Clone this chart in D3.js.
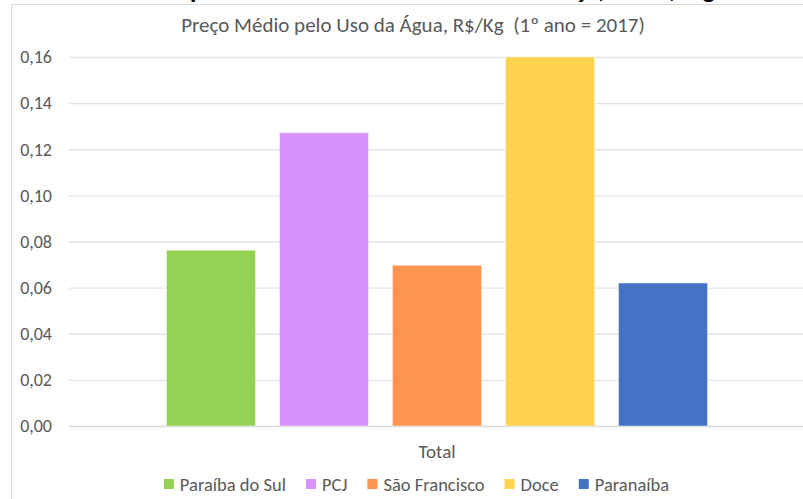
<!DOCTYPE html>
<html lang="pt">
<head>
    <meta charset="UTF-8">
    <title>Preço Médio pelo Uso da Água</title>
    <script src="https://cdnjs.cloudflare.com/ajax/libs/d3/7.8.5/d3.min.js"></script>
    <style>
        body {
            margin: 0;
            padding: 0;
            background-color: #fff;
            overflow: hidden;
        }
        svg text {
            font-family: Calibri, Carlito, "Open Sans", sans-serif;
            fill: #595959;
            white-space: pre;
        }
    </style>
</head>
<body>
    <div id="chart"></div>

    <script>
        // chart data
        const categories = ["Total"];
        const series = ["Paraíba do Sul", "PCJ", "São Francisco", "Doce", "Paranaíba"];
        const values = [0.0762, 0.1272, 0.0697, 0.1600, 0.0620];
        const colors = ["#95d152", "#d991fd", "#ff944e", "#ffd24f", "#4473c5"];
        const yTicks = [0, 0.02, 0.04, 0.06, 0.08, 0.10, 0.12, 0.14, 0.16];
        const chartTitle = "Preço Médio pelo Uso da Água, R$/Kg  (1º ano = 2017)";
        const headingText = "Comparativo entre os Valores de Cobrança, em R$/kg";

        const width = 803;
        const height = 499;
        const margin = { top: 57, right: -2, bottom: 73, left: 69 };

        const ptBR = d3.formatLocale({ decimal: ",", thousands: ".", grouping: [3], currency: ["R$", ""] });
        const fmt = ptBR.format(".2f");

        const svg = d3.select("#chart")
            .append("svg")
            .attr("width", width)
            .attr("height", height);

        // heading of the page above, only its lower edge shows
        svg.append("text")
            .attr("x", 428)
            .attr("y", -2)
            .attr("text-anchor", "middle")
            .style("fill", "#000")
            .style("font-weight", "bold")
            .style("font-size", "26px")
            .text(headingText);

        // chart frame
        svg.append("rect")
            .attr("x", 11.5)
            .attr("y", 4.5)
            .attr("width", width)
            .attr("height", height)
            .style("fill", "#fff")
            .style("stroke", "#d9d9d9");

        const x0 = d3.scaleBand()
            .domain(categories)
            .range([margin.left, width - margin.right])
            .paddingOuter(0.1513);

        const x1 = d3.scaleBand()
            .domain(series)
            .range([0, x0.bandwidth()])
            .paddingInner(0.212)
            .paddingOuter(0.106);

        const y = d3.scaleLinear()
            .domain([0, 0.16])
            .range([height - margin.bottom, margin.top]);

        // gridlines + tick labels
        const yAxis = d3.axisLeft(y)
            .tickValues(yTicks)
            .tickFormat(fmt)
            .tickSize(-(width - margin.left - margin.right))
            .tickPadding(17);

        const gy = svg.append("g")
            .attr("transform", `translate(${margin.left},0)`)
            .call(yAxis);
        gy.select(".domain").remove();
        gy.selectAll(".tick line")
            .style("stroke", d => d === 0 ? "#d9d9d9" : "#e4e4e4")
            .style("stroke-width", 1.4);
        gy.selectAll(".tick text")
            .style("font-size", "18px");

        // bars
        const group = svg.append("g")
            .selectAll("g")
            .data(categories)
            .enter()
            .append("g")
            .attr("transform", d => `translate(${x0(d)},0)`);

        group.selectAll("rect")
            .data(() => series.map((s, i) => ({ name: s, value: values[i], color: colors[i] })))
            .enter()
            .append("rect")
            .attr("x", d => x1(d.name))
            .attr("y", d => y(d.value))
            .attr("width", x1.bandwidth())
            .attr("height", d => y(0) - y(d.value))
            .style("fill", d => d.color)
            .style("stroke", "rgba(255,255,255,0.45)")
            .style("stroke-width", 1);

        // category label
        svg.append("g")
            .selectAll("text")
            .data(categories)
            .enter()
            .append("text")
            .attr("x", d => x0(d) + x0.bandwidth() / 2)
            .attr("y", 458)
            .attr("text-anchor", "middle")
            .style("font-size", "19px")
            .text(d => d);

        // title
        svg.append("text")
            .attr("x", 413)
            .attr("y", 32)
            .attr("text-anchor", "middle")
            .style("font-size", "21px")
            .text(chartTitle);

        // legend, laid out by measured text width
        const legend = svg.append("g");
        const items = legend.selectAll("g")
            .data(series)
            .enter()
            .append("g");
        items.append("rect")
            .attr("width", 10)
            .attr("height", 10)
            .attr("y", 479)
            .style("fill", (d, i) => colors[i]);
        items.append("text")
            .attr("x", 16)
            .attr("y", 491)
            .style("font-size", "18.5px")
            .text(d => d);

        let cursor = 0;
        const gap = 20;
        items.each(function() {
            const w = d3.select(this).select("text").node().getComputedTextLength();
            d3.select(this).attr("transform", `translate(${cursor},0)`);
            cursor += 16 + w + gap;
        });
        const legendWidth = cursor - gap;
        legend.attr("transform", `translate(${416.5 - legendWidth / 2},0)`);
    </script>
</body>
</html>
